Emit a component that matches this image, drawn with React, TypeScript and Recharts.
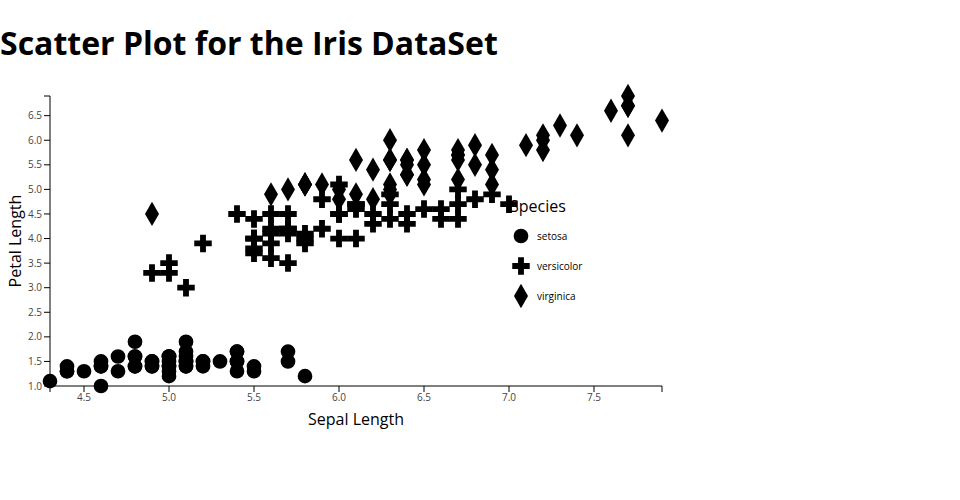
import { ScatterChart, Scatter, XAxis, YAxis, Symbols } from "recharts";

// Iris data: sepal length (x) vs petal length (y), one pair of arrays per species
const setosaSepal = [
  5.1, 4.9, 4.7, 4.6, 5.0, 5.4, 4.6, 5.0, 4.4, 4.9, 5.4, 4.8, 4.8, 4.3, 5.8, 5.7, 5.4, 5.1, 5.7, 5.1,
  5.4, 5.1, 4.6, 5.1, 4.8, 5.0, 5.0, 5.2, 5.2, 4.7, 4.8, 5.4, 5.2, 5.5, 4.9, 5.0, 5.5, 4.9, 4.4, 5.1,
  5.0, 4.5, 4.4, 5.0, 5.1, 4.8, 5.1, 4.6, 5.3, 5.0,
];
const setosaPetal = [
  1.4, 1.4, 1.3, 1.5, 1.4, 1.7, 1.4, 1.5, 1.4, 1.5, 1.5, 1.6, 1.4, 1.1, 1.2, 1.5, 1.3, 1.4, 1.7, 1.5,
  1.7, 1.5, 1.0, 1.7, 1.9, 1.6, 1.6, 1.5, 1.4, 1.6, 1.6, 1.5, 1.5, 1.4, 1.5, 1.2, 1.3, 1.4, 1.3, 1.5,
  1.3, 1.3, 1.3, 1.6, 1.9, 1.4, 1.6, 1.4, 1.5, 1.4,
];
const versicolorSepal = [
  7.0, 6.4, 6.9, 5.5, 6.5, 5.7, 6.3, 4.9, 6.6, 5.2, 5.0, 5.9, 6.0, 6.1, 5.6, 6.7, 5.6, 5.8, 6.2, 5.6,
  5.9, 6.1, 6.3, 6.1, 6.4, 6.6, 6.8, 6.7, 6.0, 5.7, 5.5, 5.5, 5.8, 6.0, 5.4, 6.0, 6.7, 6.3, 5.6, 5.5,
  5.5, 6.1, 5.8, 5.0, 5.6, 5.7, 5.7, 6.2, 5.1, 5.7,
];
const versicolorPetal = [
  4.7, 4.5, 4.9, 4.0, 4.6, 4.5, 4.7, 3.3, 4.6, 3.9, 3.5, 4.2, 4.0, 4.7, 3.6, 4.4, 4.5, 4.1, 4.5, 3.9,
  4.8, 4.0, 4.9, 4.7, 4.3, 4.4, 4.8, 5.0, 4.5, 3.5, 3.8, 3.7, 3.9, 5.1, 4.5, 4.5, 4.7, 4.4, 4.1, 4.0,
  4.4, 4.6, 4.0, 3.3, 4.2, 4.2, 4.2, 4.3, 3.0, 4.1,
];
const virginicaSepal = [
  6.3, 5.8, 7.1, 6.3, 6.5, 7.6, 4.9, 7.3, 6.7, 7.2, 6.5, 6.4, 6.8, 5.7, 5.8, 6.4, 6.5, 7.7, 7.7, 6.0,
  6.9, 5.6, 7.7, 6.3, 6.7, 7.2, 6.2, 6.1, 6.4, 7.2, 7.4, 7.9, 6.4, 6.3, 6.1, 7.7, 6.3, 6.4, 6.0, 6.9,
  6.7, 6.9, 5.8, 6.8, 6.7, 6.7, 6.3, 6.5, 6.2, 5.9,
];
const virginicaPetal = [
  6.0, 5.1, 5.9, 5.6, 5.8, 6.6, 4.5, 6.3, 5.8, 6.1, 5.1, 5.3, 5.5, 5.0, 5.1, 5.3, 5.5, 6.7, 6.9, 5.0,
  5.7, 4.9, 6.7, 4.9, 5.7, 6.0, 4.8, 4.9, 5.6, 5.8, 6.1, 6.4, 5.6, 5.1, 5.6, 6.1, 5.6, 5.5, 4.8, 5.4,
  5.6, 5.1, 5.1, 5.9, 5.7, 5.2, 5.0, 5.2, 5.4, 5.1,
];

const speciesNames = ["setosa", "versicolor", "virginica"];
const speciesShapes = ["circle", "cross", "diamond"] as const;

const xTicks = [4.3, 4.5, 5.0, 5.5, 6.0, 6.5, 7.0, 7.5, 7.9];
const yTicks = [1.0, 1.5, 2.0, 2.5, 3.0, 3.5, 4.0, 4.5, 5.0, 5.5, 6.0, 6.5, 6.9];
const xDomain: [number, number] = [4.3, 7.9];
const yDomain: [number, number] = [1.0, 6.9];

const FONT = "'Open Sans', sans-serif";
const MARKER_SIZE = 170;

const zip = (xs: number[], ys: number[]) => xs.map((x, i) => ({ x, y: ys[i] }));

const seriesData = [
  zip(setosaSepal, setosaPetal),
  zip(versicolorSepal, versicolorPetal),
  zip(virginicaSepal, virginicaPetal),
];

const markerFor = (type: (typeof speciesShapes)[number]) => (props: any) => (
  <Symbols cx={props.cx} cy={props.cy} type={type} size={MARKER_SIZE} fill="#000" />
);

function SpeciesLegend() {
  return (
    <svg
      width={130}
      height={120}
      style={{ position: "absolute", left: 510, top: 195, overflow: "visible", fontFamily: FONT }}
    >
      <text x={0} y={17} fontSize={16} fill="#000">Species</text>
      {speciesNames.map((name, i) => (
        <g key={name}>
          <Symbols cx={11} cy={41 + i * 30} type={speciesShapes[i]} size={MARKER_SIZE} fill="#000" />
          <text x={27} y={41 + i * 30} dy="0.35em" fontSize={10} fill="#000">{name}</text>
        </g>
      ))}
    </svg>
  );
}

export default function App() {
  const edgeX = (v: number) => (v === xDomain[0] || v === xDomain[1] ? "" : v.toFixed(1));
  const edgeY = (v: number) => (v === yDomain[1] ? "" : v.toFixed(1));

  return (
    <div style={{ position: "absolute", left: 0, top: 0, width: 960, height: 500, background: "#fff", fontFamily: FONT }}>
      <svg width={960} height={70} style={{ position: "absolute", left: 0, top: 0 }}>
        <text x={0} y={55} fontSize={32} fontWeight={700} fill="#000" fontFamily={FONT}>
          Scatter Plot for the Iris DataSet
        </text>
      </svg>
      <ScatterChart
        width={960}
        height={500}
        margin={{ top: 96, right: 298, bottom: 84, left: 0 }}
        style={{ position: "absolute", left: 0, top: 0 }}
      >
        <XAxis
          type="number"
          dataKey="x"
          domain={xDomain}
          ticks={xTicks}
          interval={0}
          height={30}
          tickFormatter={edgeX}
          tickSize={6}
          tickMargin={2}
          axisLine={{ stroke: "#000" }}
          tickLine={{ stroke: "#000" }}
          tick={{ fontSize: 10, fill: "#444", fontFamily: FONT }}
          label={{ value: "Sepal Length", position: "bottom", offset: -2, fontSize: 16, fill: "#000", fontFamily: FONT }}
        />
        <YAxis
          type="number"
          dataKey="y"
          domain={yDomain}
          ticks={yTicks}
          interval={0}
          width={50}
          tickFormatter={edgeY}
          tickSize={6}
          tickMargin={2}
          axisLine={{ stroke: "#000" }}
          tickLine={{ stroke: "#000" }}
          tick={{ fontSize: 10, fill: "#444", fontFamily: FONT }}
          label={{
            value: "Petal Length",
            angle: -90,
            position: "insideLeft",
            offset: 15,
            fontSize: 16,
            fill: "#000",
            fontFamily: FONT,
            style: { textAnchor: "middle" },
          }}
        />
        {speciesNames.map((name, i) => (
          <Scatter
            key={name}
            name={name}
            data={seriesData[i]}
            shape={markerFor(speciesShapes[i])}
            fill="#000"
            isAnimationActive={false}
          />
        ))}
      </ScatterChart>
      <SpeciesLegend />
    </div>
  );
}
